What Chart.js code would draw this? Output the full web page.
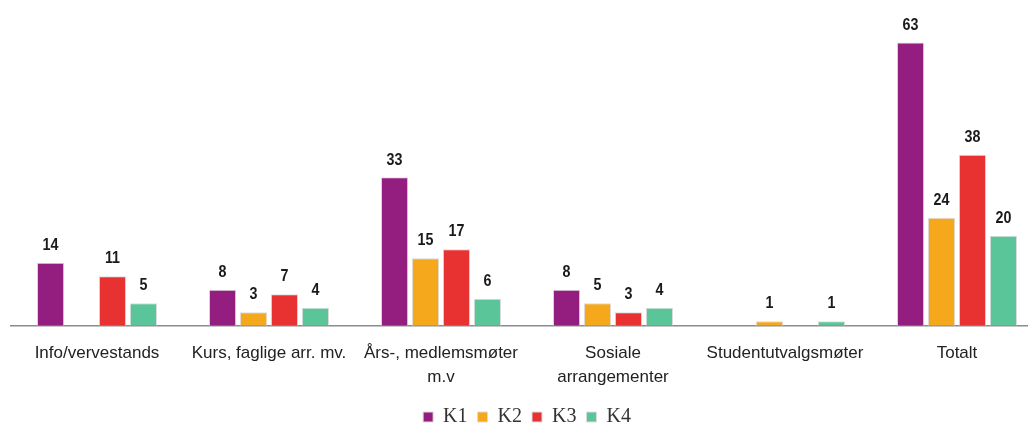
<!DOCTYPE html>
<html>
<head>
<meta charset="utf-8">
<script src="https://cdn.jsdelivr.net/npm/chart.js@4.4.1/dist/chart.umd.min.js"></script>
<style>
  html, body { margin: 0; padding: 0; background: #fff; overflow: hidden; }
  #wrap { width: 1050px; height: 425px; overflow: hidden; }
</style>
</head>
<body>
<div id="wrap"><canvas id="c" width="1050" height="437"></canvas></div>
<script>
const categories = [
  "Info/vervestands",
  "Kurs, faglige arr. mv.",
  ["Års-, medlemsmøter", "m.v"],
  ["Sosiale", "arrangementer"],
  "Studentutvalgsmøter",
  "Totalt"
];
const seriesNames = ["K1", "K2", "K3", "K4"];
const k1 = [14, 8, 33, 8, null, 63];
const k2 = [null, 3, 15, 5, 1, 24];
const k3 = [11, 7, 17, 3, null, 38];
const k4 = [5, 4, 6, 4, 1, 20];
const colors = ["#931e7f", "#f5a81c", "#e83232", "#5bc59a"];

const valueLabels = {
  id: 'valueLabels',
  afterDatasetsDraw(chart) {
    const ctx = chart.ctx;
    const sx = 0.84;
    chart.data.datasets.forEach((ds, i) => {
      const meta = chart.getDatasetMeta(i);
      meta.data.forEach((bar, j) => {
        const v = ds.data[j];
        if (v === null || v === undefined) return;
        ctx.save();
        ctx.font = 'bold 17px "Liberation Sans", Arial, sans-serif';
        ctx.fillStyle = '#1a1a1a';
        ctx.textAlign = 'center';
        ctx.textBaseline = 'bottom';
        ctx.translate(bar.x, bar.y - 9);
        ctx.scale(sx, 1);
        ctx.fillText(String(v), 0, 0);
        ctx.restore();
      });
    });
  }
};

const data = [k1, k2, k3, k4];
new Chart(document.getElementById('c'), {
  type: 'bar',
  data: {
    labels: categories,
    datasets: seriesNames.map((n, i) => ({
      label: n,
      data: data[i],
      backgroundColor: colors[i],
      borderColor: '#dcdcdc',
      borderWidth: 1,
      categoryPercentage: 0.72,
      barPercentage: 0.88
    }))
  },
  options: {
    responsive: false,
    animation: false,
    layout: { padding: { top: 2, left: 11, right: 7, bottom: 0 } },
    plugins: {
      legend: {
        position: 'bottom',
        labels: {
          boxWidth: 10,
          boxHeight: 10,
          padding: 10,
          color: '#333',
          font: { family: '"Liberation Serif", "DejaVu Serif", serif', size: 20 }
        }
      },
      tooltip: { enabled: false }
    },
    scales: {
      x: {
        grid: { display: false },
        border: { display: true, color: '#8c8c8c', width: 1.5 },
        ticks: {
          color: '#222',
          padding: 7,
          maxRotation: 0,
          autoSkip: false,
          font: { family: '"Liberation Sans", Arial, sans-serif', size: 17, lineHeight: 1.45 }
        }
      },
      y: {
        display: false,
        min: 0,
        max: 72
      }
    }
  },
  plugins: [valueLabels]
});
</script>
</body>
</html>
